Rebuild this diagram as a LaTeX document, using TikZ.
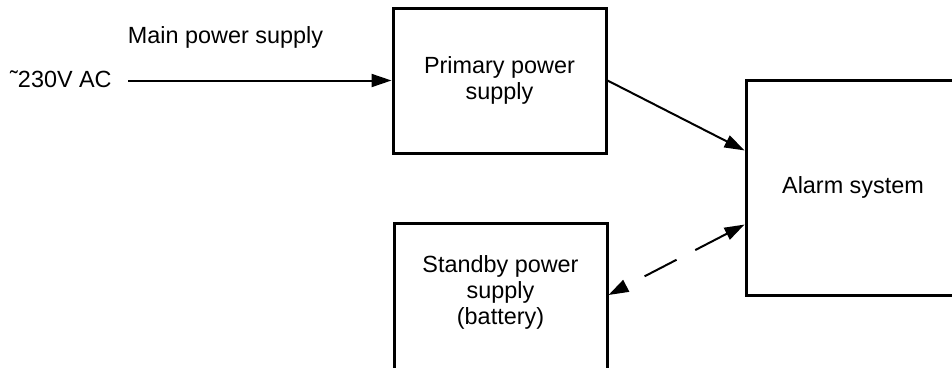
\documentclass[tikz,border=0pt]{standalone}
\usepackage{fontspec}
\setmainfont{Liberation Sans}
\usetikzlibrary{arrows.meta,calc}
\begin{document}
\begin{tikzpicture}[x=1pt,y=-1pt,
  blockbox/.style={draw,line width=3pt,rectangle,minimum width=213pt,inner sep=0pt,align=center,
    font=\fontsize{23.4pt}{26.8pt}\selectfont},
  lbl/.style={inner sep=0pt,font=\fontsize{23.4pt}{26.8pt}\selectfont},
  conn/.style={line width=2pt,-{Triangle[length=20pt,width=13pt]}},
  dconn/.style={line width=2pt,{Triangle[length=20pt,width=13pt]}-{Triangle[length=20pt,width=13pt]},dash pattern=on 36pt off 21pt}
]
\path[use as bounding box] (0,0) rectangle (952,367);
\clip (0,0) rectangle (952,367);
\node[blockbox,minimum height=145pt] (primary) at (499.5,80.5) {Primary power\\supply};
\node[blockbox,minimum width=214pt,minimum height=215pt] (alarm) at (853,187.5) {Alarm system};
\node[blockbox,minimum height=154pt] (standby) at (500.5,300) {};
\node[lbl,align=center,font=\fontsize{23.4pt}{26pt}\selectfont] (standbytxt) at (500.5,292) {Standby power\\supply\\(battery)};
\node[lbl,anchor=base] (mainlbl) at (225.5,43) {Main power supply};
\node[lbl,anchor=base west] (aclbl) at (10,87) {˜230V AC};
\coordinate (acin) at (128,80.5);
\coordinate (alarmin1) at ($(alarm.north west)!0.33!(alarm.south west)$);
\coordinate (alarmin2) at ($(alarm.north west)!0.67!(alarm.south west)$);
\coordinate (standbyin) at (standby.east |- 0,295);
\draw[conn] (acin) -- (primary.west);
\draw[conn] (primary.east) -- (alarmin1);
\draw[dconn] (alarmin2) -- (standbyin);
\end{tikzpicture}
\end{document}
